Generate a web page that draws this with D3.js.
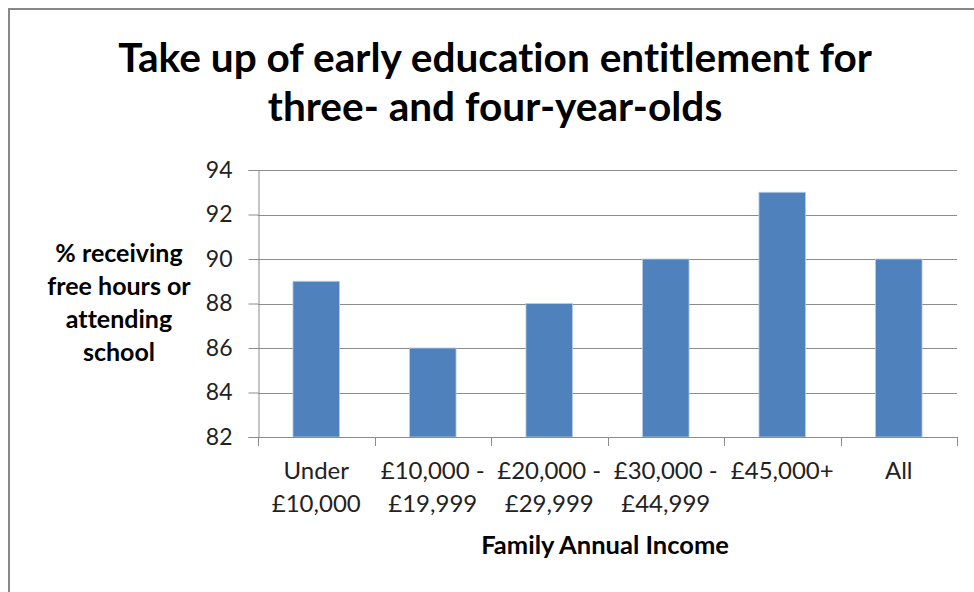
<!DOCTYPE html>
<html>
<head>
<meta charset="utf-8">
<script src="https://cdn.jsdelivr.net/npm/d3@7"></script>
<style>
  body { margin: 0; background: #fff; }
  text { font-family: Lato, "Open Sans", sans-serif; font-variant-ligatures: none; }
</style>
</head>
<body>
<svg id="chart" width="974" height="592"></svg>
<script>
// data
const categories = [["Under", "£10,000"], ["£10,000 -", "£19,999"], ["£20,000 -", "£29,999"], ["£30,000 -", "£44,999"], ["£45,000+"], ["All"]];
const values = [89, 86, 88, 90, 93, 90];
const yTicks = [82, 84, 86, 88, 90, 92, 94];
const titleLines = ["Take up of early education entitlement for", "three- and four-year-olds"];
const yLabelLines = ["% receiving", "free hours or", "attending", "school"];
const xTitle = "Family Annual Income";

const margin = { top: 170, left: 258, bottom: 155, right: 17 };
const width = 974, height = 592;

const svg = d3.select("#chart");

// outer chart border (runs off the right and bottom of the picture)
svg.append("rect")
    .attr("x", 9).attr("y", 9)
    .attr("width", 1000).attr("height", 1000)
    .attr("fill", "none")
    .attr("stroke", "#888")
    .attr("stroke-width", 2);

const x = d3.scaleBand()
    .domain(categories.map((d, i) => i))
    .range([margin.left, width - margin.right])
    .paddingInner(0.6)
    .paddingOuter(0.3);

const xEdge = d3.scaleLinear()
    .domain([0, categories.length])
    .range([margin.left, width - margin.right]);

const y = d3.scaleLinear()
    .domain([82, 94])
    .range([height - margin.bottom, margin.top]);

// gridlines
svg.append("g")
    .selectAll("line")
    .data(yTicks.slice(1))
    .join("line")
    .attr("x1", margin.left).attr("x2", width - margin.right)
    .attr("y1", d => Math.round(y(d)) + 0.5).attr("y2", d => Math.round(y(d)) + 0.5)
    .attr("stroke", "#8c8c8c");

// bars
svg.append("g")
    .selectAll("rect")
    .data(values)
    .join("rect")
    .attr("x", (d, i) => x(i))
    .attr("y", d => y(d))
    .attr("width", x.bandwidth())
    .attr("height", d => y(82) - y(d))
    .attr("fill", "#4f81bd")
    .attr("stroke", "#b9cde5")
    .attr("stroke-width", 0.8);

// y axis
const yAxis = svg.append("g")
    .attr("transform", `translate(${margin.left + 0.5},0)`)
    .call(d3.axisLeft(y).tickValues(yTicks).tickSize(10).tickPadding(16));
yAxis.select(".domain").attr("stroke", "#8c8c8c");
yAxis.selectAll(".tick line").attr("stroke", "#8c8c8c");
yAxis.selectAll(".tick text")
    .attr("font-size", 23)
    .attr("fill", "#222")
    .style("font-family", "Lato, sans-serif");

// x axis line and category ticks
svg.append("line")
    .attr("x1", margin.left).attr("x2", width - margin.right)
    .attr("y1", y(82) + 0.5).attr("y2", y(82) + 0.5)
    .attr("stroke", "#8c8c8c");
svg.append("g")
    .selectAll("line")
    .data(d3.range(categories.length + 1))
    .join("line")
    .attr("x1", d => Math.round(xEdge(d)) + 0.5).attr("x2", d => Math.round(xEdge(d)) + 0.5)
    .attr("y1", y(82)).attr("y2", y(82) + 9)
    .attr("stroke", "#8c8c8c");

// category labels
svg.append("g")
    .selectAll("text")
    .data(categories)
    .join("text")
    .attr("x", (d, i) => x(i) + x.bandwidth() / 2)
    .attr("y", y(82) + 42)
    .attr("text-anchor", "middle")
    .attr("font-size", 24)
    .attr("fill", "#222")
    .selectAll("tspan")
    .data(d => d)
    .join("tspan")
    .attr("x", function() { return this.parentNode.getAttribute("x"); })
    .attr("dy", (d, i) => i === 0 ? 0 : 33)
    .text(d => d);

// title
svg.append("g")
    .selectAll("text")
    .data(titleLines)
    .join("text")
    .attr("x", 495)
    .attr("y", (d, i) => 72 + i * 49)
    .attr("text-anchor", "middle")
    .attr("font-size", 40.6)
    .attr("font-weight", "bold")
    .attr("fill", "#000")
    .text(d => d);

// y axis title
svg.append("g")
    .selectAll("text")
    .data(yLabelLines)
    .join("text")
    .attr("x", 119)
    .attr("y", (d, i) => 262 + i * 33)
    .attr("text-anchor", "middle")
    .attr("font-size", 25)
    .attr("font-weight", "bold")
    .attr("fill", "#000")
    .text(d => d);

// x axis title
svg.append("text")
    .attr("x", 605)
    .attr("y", 554)
    .attr("text-anchor", "middle")
    .attr("font-size", 25.5)
    .attr("font-weight", "bold")
    .attr("fill", "#000")
    .text(xTitle);
</script>
</body>
</html>
